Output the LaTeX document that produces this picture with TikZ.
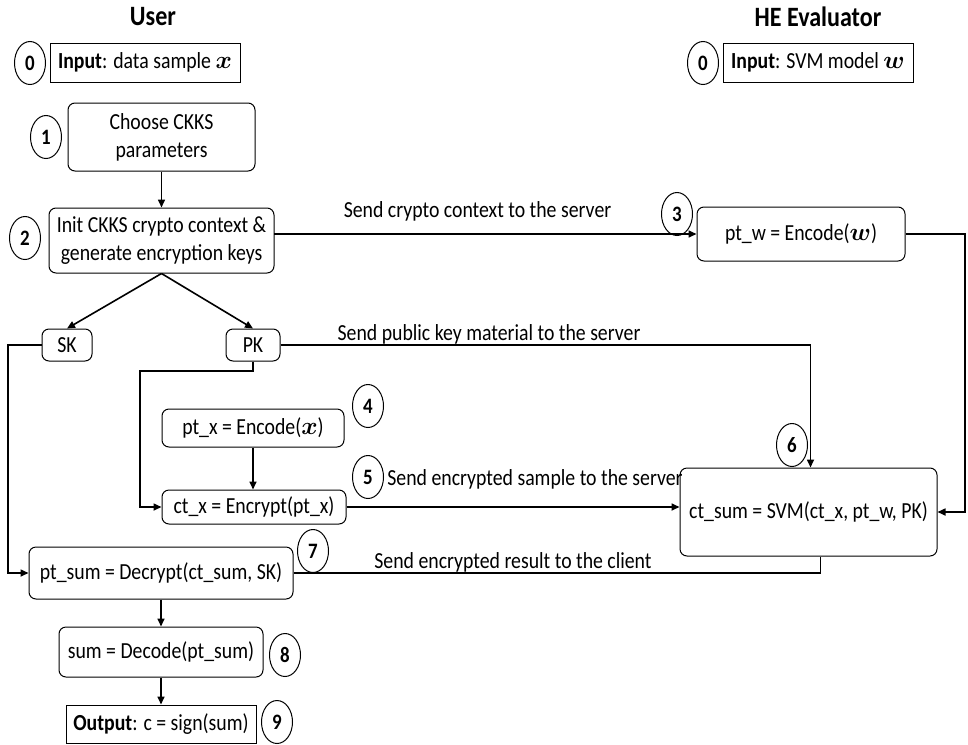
\documentclass[tikz,border=0pt]{standalone}
\usepackage{fontspec}
\setmainfont{Carlito}[FakeStretch=0.86]
\usepackage{amsmath,bm}
\usetikzlibrary{shapes.geometric,arrows.meta}
\begin{document}
\begin{tikzpicture}[x=1pt,y=-1pt,
  every node/.style={font=\fontsize{23}{28}\selectfont},
  rbox/.style={draw, rounded corners=7pt, line width=1pt, align=center, inner sep=0pt},
  sbox/.style={draw, line width=1pt, inner sep=0pt},
  num/.style={draw, ellipse, line width=1pt, minimum width=31pt, minimum height=43pt, inner sep=0pt, font=\fontsize{22}{24}\selectfont\bfseries},
  conn/.style={line width=1.6pt, -{Triangle[length=8pt,width=7pt]}},
  plainline/.style={line width=1.6pt},
  lbl/.style={inner sep=0pt},
  title/.style={font=\fontsize{28}{30}\selectfont\bfseries}
]
\useasboundingbox (0,0) rectangle (968,744);

% titles
\node[title] (tuser) at (153,17) {User};
\node[title] (the) at (818,17) {HE Evaluator};

% inputs
\node[num] (c0u) at (30,63) {0};
\node[sbox, minimum width=190pt, minimum height=39pt] (inu) at (145,62.5) {\textbf{Input}: data sample $\bm{x}$};
\node[num] (c0h) at (703,63) {0};
\node[sbox, minimum width=190pt, minimum height=39pt] (inh) at (818,62.5) {\textbf{Input}: SVM model $\bm{w}$};

% user side
\node[num] (c1) at (46,137) {1};
\node[rbox, minimum width=187pt, minimum height=68pt] (b1) at (161.5,137) {Choose CKKS\\parameters};
\node[num] (c2) at (25,238) {2};
\node[rbox, minimum width=225pt, minimum height=65pt] (b2) at (161.5,240.5) {Init CKKS crypto context \&\\generate encryption keys};
\node[rbox, minimum width=50pt, minimum height=32pt] (SK) at (67,345) {SK};
\node[rbox, minimum width=54pt, minimum height=32pt] (PK) at (253,345) {PK};
\node[num] (c4) at (368,406) {4};
\node[rbox, minimum width=182pt, minimum height=38pt] (b4) at (253,428) {pt\_x = Encode($\bm{x}$)};
\node[num] (c5) at (368,477) {5};
\node[rbox, minimum width=184pt, minimum height=34pt] (b5) at (254,507) {ct\_x = Encrypt(pt\_x)};
\node[num] (c7) at (313,551) {7};
\node[rbox, minimum width=264pt, minimum height=52pt] (b7) at (161,573) {pt\_sum = Decrypt(ct\_sum, SK)};
\node[num] (c8) at (285,655) {8};
\node[rbox, minimum width=204pt, minimum height=50pt] (b8) at (161,652) {sum = Decode(pt\_sum)};
\node[num] (c9) at (277,722) {9};
\node[sbox, minimum width=190pt, minimum height=38pt] (b9) at (161,724) {\textbf{Output}: c = sign(sum)};

% server side
\node[num] (c3) at (677,214) {3};
\node[rbox, minimum width=208pt, minimum height=54pt] (b3) at (801,234) {pt\_w = Encode($\bm{w}$)};
\node[num] (c6) at (792,445) {6};
\node[rbox, minimum width=257pt, minimum height=88pt] (b6) at (808.5,512) {ct\_sum = SVM(ct\_x, pt\_w, PK)};

% labels
\node[lbl] (l1) at (477.5,211) {Send crypto context to the server};
\node[lbl] (l2) at (489,334) {Send public key material to the server};
\node[lbl] (l3) at (535,479) {Send encrypted sample to the server};
\node[lbl] (l4) at (513,562) {Send encrypted result to the client};

% turning points
\coordinate (pkturn) at (140,371);
\coordinate (skturn) at (8,460);
\coordinate (w3) at (965,234);
\coordinate (b2out) at (274,234);

% connectors
\draw[conn] (b1.south) -- (b2.north);
\draw[conn] (b2.south) -- (SK.north);
\draw[conn] (b2.south) -- (PK.north);
\draw[conn] (b2out) -- (b3.west);
\draw[conn] (b3.east) -- (w3) |- (b6.east);
\draw[conn] (PK.east) -| ([xshift=2pt]b6.north);
\draw[conn] (PK.south) |- (pkturn) |- (b5.west);
\draw[conn] (b4.south) -- (b5.north -| b4.south);
\draw[conn] (b5.east) -- (b6.west |- b5.east);
\draw[conn] (SK.west) -| (skturn) |- (b7.west);
\draw[plainline] (b7.east) -| ([xshift=12pt]b6.south);
\draw[conn] (b7.south) -- (b8.north);
\draw[conn] (b8.south) -- (b9.north);
\end{tikzpicture}
\end{document}
